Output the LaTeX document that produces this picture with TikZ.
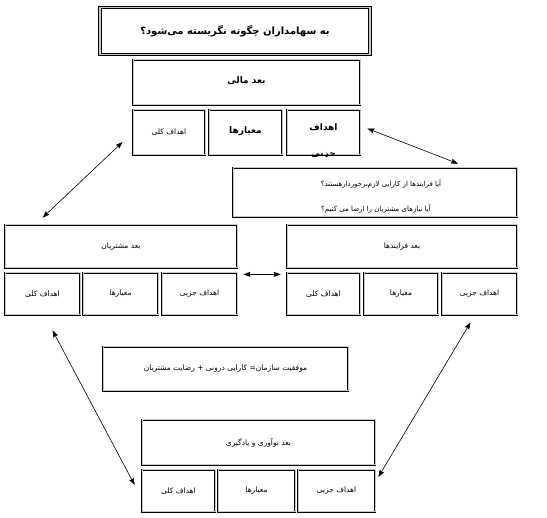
\documentclass[tikz,border=0pt]{standalone}
\usepackage{fontspec}
\usepackage{tikz}
\usetikzlibrary{arrows.meta,calc}
\newfontfamily\arabicfont[Script=Arabic]{DejaVu Sans}
\TeXXeTstate=1
\newcommand{\fa}[1]{{\arabicfont\beginR #1\endR}}
\tikzset{
  dblbox/.style={draw=black, line width=0.75pt, double=gray!45, double distance=1pt, rectangle, inner sep=0pt},
  smalltxt/.style={font=\fontsize{7.5}{9}\selectfont},
  boldtxt/.style={font=\bfseries\fontsize{9}{11}\selectfont},
  arr/.style={{Stealth[length=7pt,width=5pt,inset=1pt]}-{Stealth[length=7pt,width=5pt,inset=1pt]}, line width=0.6pt},
}

\begin{document}
\begin{tikzpicture}[x=1pt,y=-1pt]
  \useasboundingbox (0,0) rectangle (547,518);
  % title
  \node[dblbox, line width=0.9pt, double distance=1.3pt, minimum width=270, minimum height=47, font=\bfseries\fontsize{10}{12}\selectfont] (title) at (235,31) {\fa{به سهامداران چگونه نگریسته می‌شود؟}};
  % financial
  \node[dblbox, boldtxt, minimum width=227, minimum height=45] (fin) at (246.5,82.5) {\raisebox{5pt}{\fa{بعد مالی}}};
  \node[dblbox, smalltxt, minimum width=72, minimum height=45] (fingen) at (169,132.5) {\raisebox{2pt}{\fa{اهداف کلی}}};
  \node[dblbox, boldtxt, minimum width=73, minimum height=45] (finmeas) at (245.5,132.5) {\raisebox{4pt}{\fa{معیارها}}};
  \node[dblbox, minimum width=73, minimum height=45] (finpart) at (323.5,132.5) {};
  \begin{scope}
    \clip ([shift={(1.5,-1.5)}]finpart.north west) rectangle ([shift={(-1.5,1.5)}]finpart.south east);
    \node[anchor=north, align=center, font=\bfseries\fontsize{9}{11}\selectfont] (finparttxt) at ([yshift=-11pt]finpart.north) {\fa{اهداف}\\[15pt]\fa{جزیی}};
  \end{scope}
  % questions
  \node[dblbox, minimum width=284, minimum height=49] (quest) at (375,192.5) {};
  \node[font=\fontsize{7}{9}\selectfont] (questa) at (381,184) {\fa{آیا فرایندها از کارایی لازم‌برخوردار‌هستند؟}};
  \node[font=\fontsize{7}{9}\selectfont] (questb) at (376,209) {\fa{آیا نیازهای مشتریان را ارضا می کنیم؟}};
  % customers, processes, learning
  \node[dblbox, smalltxt, minimum width=232, minimum height=43] (cust) at (121,246.5) {\fa{بعد مشتریان}};
  \node[dblbox, smalltxt, minimum width=230, minimum height=43] (proc) at (402,246.5) {\fa{بعد فرایندها}};
  \node[dblbox, smalltxt, minimum width=233, minimum height=45] (learn) at (258.5,442.5) {\fa{بعد نوآوری و یادگیری}};
  \foreach \nm/\xc/\yc/\w/\txt in {custgen/42.5/294/75/اهداف کلی, custmeas/120.5/294/75/معیارها, custpart/199.5/294/75/اهداف جزیی,
      procgen/323.5/294/73/اهداف کلی, procmeas/401/294/74/معیارها, procpart/479.5/294/75/اهداف جزیی,
      learngen/178.5/491/73/اهداف کلی, learnmeas/256.5/491/77/معیارها, learnpart/336.5/491/77/اهداف جزیی}
    \node[dblbox, smalltxt, minimum width=\w, minimum height=42] (\nm) at (\xc,\yc) {\fa{\txt}};
  % success
  \node[dblbox, smalltxt, minimum width=245, minimum height=44] (succ) at (225.5,369) {\fa{موفقیت سازمان= کارایی درونی + رضایت مشتریان}};

  % arrows
  \coordinate (a1) at ($(finpart.east)+(7,-4)$);
  \coordinate (a2) at ($(quest.north)+(83,-4)$);
  \coordinate (b1) at ($(cust.north west)+(38,-7)$);
  \coordinate (b2) at ($(fingen.west)+(-10,9.5)$);
  \coordinate (c1) at ($(cust.south east)+(6,6)$);
  \coordinate (c2) at ($(proc.south west)+(-6,6)$);
  \coordinate (d1) at ($(custgen.south)+(10,15)$);
  \coordinate (d2) at ($(learngen.west)+(-7,-6)$);
  \coordinate (e1) at ($(procpart.south)+(-9,7)$);
  \coordinate (e2) at ($(learnpart.east)+(3,-14)$);
  \draw[arr] (a1) -- (a2);
  \draw[arr] (b1) -- (b2);
  \draw[arr] (c1) -- (c2);
  \draw[arr] (d1) -- (d2);
  \draw[arr] (e1) -- (e2);

\end{tikzpicture}
\end{document}
